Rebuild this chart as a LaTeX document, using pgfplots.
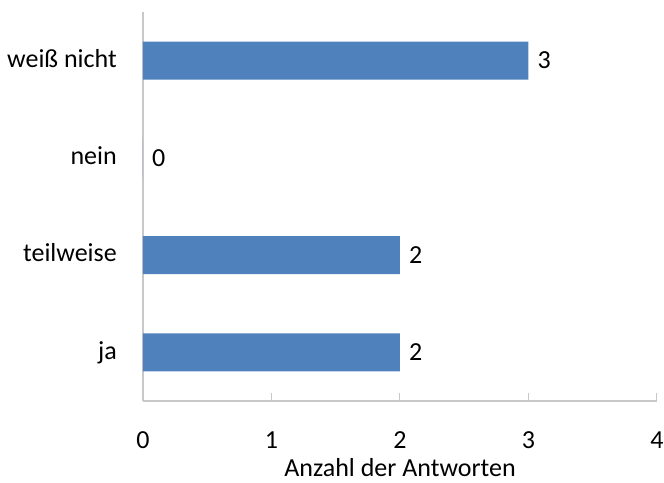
\documentclass[border=0pt]{standalone}
\usepackage{pgfplots}
\pgfplotsset{compat=1.18}
\usepackage{fontspec}
\setmainfont{Carlito}
\definecolor{barblue}{HTML}{4F81BD}
\definecolor{axisgray}{HTML}{C8C8C8}
\begin{document}
\begin{tikzpicture}[font=\fontsize{26}{31}\selectfont]
\useasboundingbox (-143pt,-81pt) rectangle (521pt,401pt);
\begin{axis}[
  at={(0pt,0pt)}, anchor=south west,
  scale only axis, width=514pt, height=389pt,
  xbar, bar width=38pt,
  xmin=0, xmax=4, ymin=-0.5, ymax=3.5,
  axis x line=bottom, axis y line=left,
  axis line style={draw=axisgray, line width=1.2pt, -},
  xtick={0,1,2,3,4}, ytick={0,1,2,3},
  yticklabels={ja,teilweise,nein,weiß nicht},
  xtick align=inside, major tick length=8pt,
  xtick style={draw=axisgray, line width=1pt},
  ytick style={draw=none},
  /pgf/number format/assume math mode=true,
  xticklabel style={anchor=base, inner sep=0pt, yshift=-47.3pt},
  yticklabel style={anchor=base east, inner sep=0pt, xshift=-22pt, yshift=-6.8pt},
  xlabel={Anzahl der Antworten},
  xlabel style={at={(axis description cs:0.5,0)}, anchor=base, inner sep=0pt, yshift=-75.7pt},
  nodes near coords,
  nodes near coords style={anchor=west, inner sep=0pt, xshift=9pt, text=black},
]
\addplot[fill=barblue, draw=none] coordinates {(2,0) (2,1) (0,2) (3,3)};
\end{axis}
\end{tikzpicture}
\end{document}
